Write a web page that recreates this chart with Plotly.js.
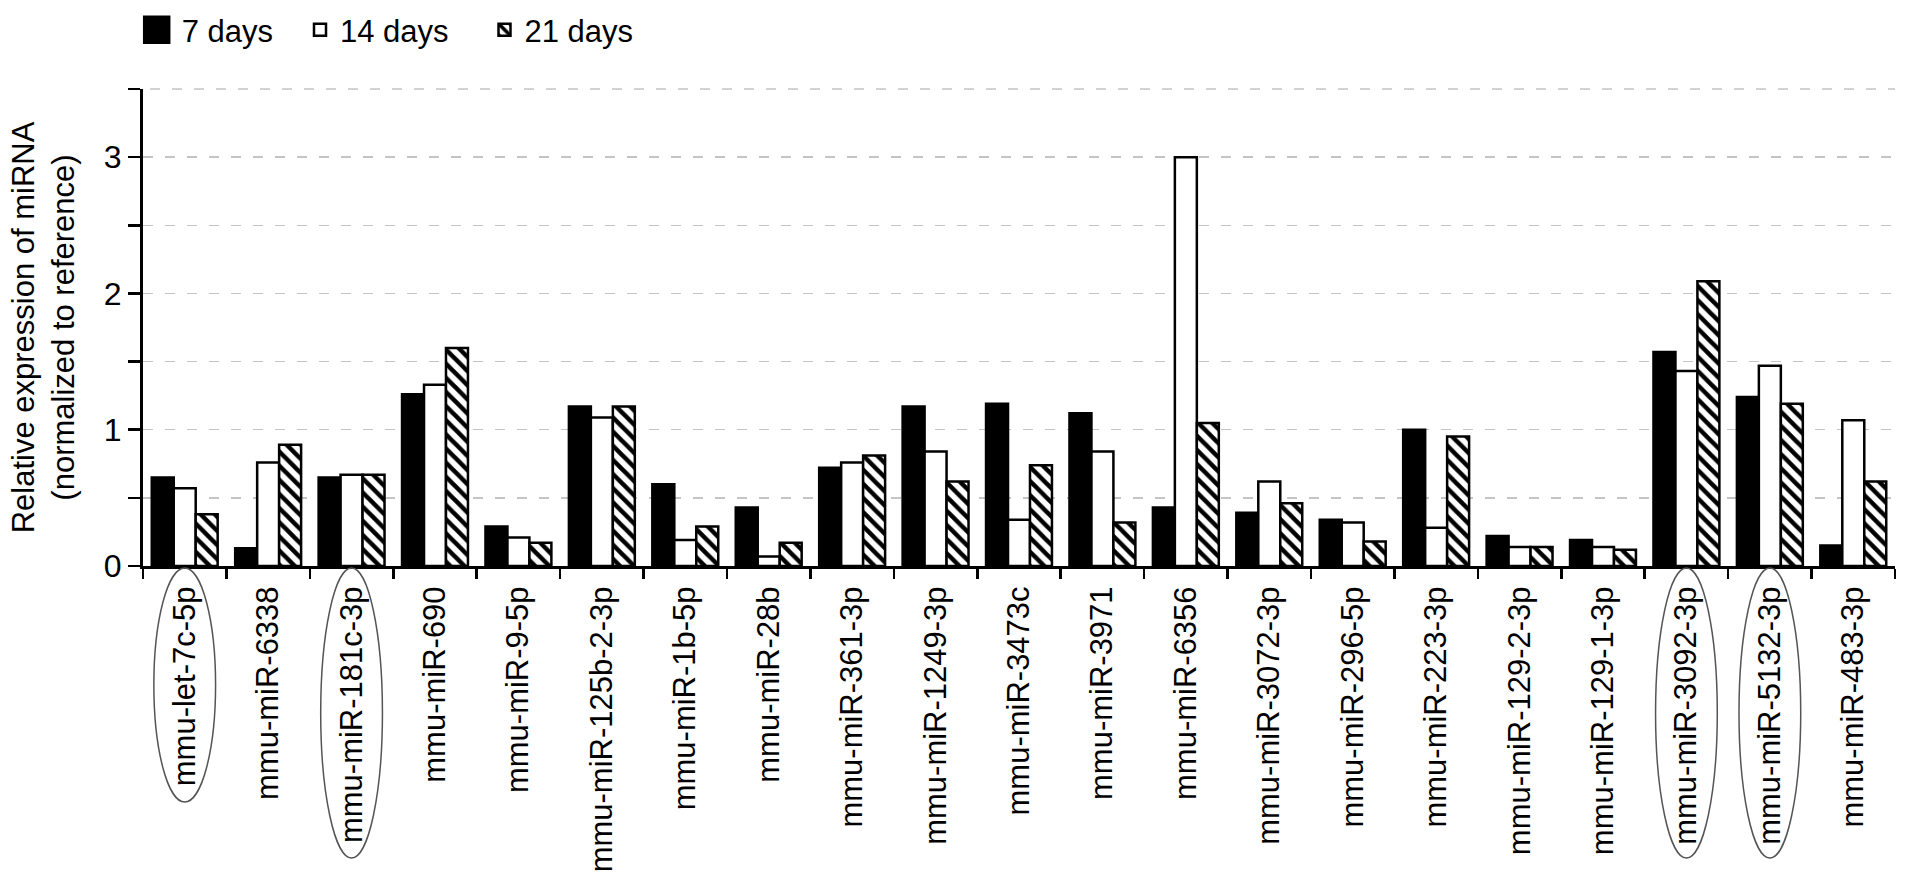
<!DOCTYPE html>
<html>
<head>
<meta charset="utf-8">
<script src="https://cdn.plot.ly/plotly-3.0.1.min.js"></script>
<style>html,body{margin:0;padding:0;background:#fff;}#chart{width:1913px;height:883px;}</style>
</head>
<body>
<div id="chart"></div>
<script>
// ---- data ----
const categories = ['mmu-let-7c-5p','mmu-miR-6338','mmu-miR-181c-3p','mmu-miR-690','mmu-miR-9-5p','mmu-miR-125b-2-3p','mmu-miR-1b-5p','mmu-miR-28b','mmu-miR-361-3p','mmu-miR-1249-3p','mmu-miR-3473c','mmu-miR-3971','mmu-miR-6356','mmu-miR-3072-3p','mmu-miR-296-5p','mmu-miR-223-3p','mmu-miR-129-2-3p','mmu-miR-129-1-3p','mmu-miR-3092-3p','mmu-miR-5132-3p','mmu-miR-483-3p'];
const day7  = [0.65, 0.13, 0.65, 1.26, 0.29, 1.17, 0.60, 0.43, 0.72, 1.17, 1.19, 1.12, 0.43, 0.39, 0.34, 1.00, 0.22, 0.19, 1.57, 1.24, 0.15];
const day14 = [0.57, 0.76, 0.67, 1.33, 0.21, 1.09, 0.19, 0.07, 0.76, 0.84, 0.34, 0.84, 3.00, 0.62, 0.32, 0.28, 0.14, 0.14, 1.43, 1.47, 1.07];
const day21 = [0.38, 0.89, 0.67, 1.60, 0.17, 1.17, 0.29, 0.17, 0.81, 0.62, 0.74, 0.32, 1.05, 0.46, 0.18, 0.95, 0.14, 0.12, 2.09, 1.19, 0.62];
const seriesNames = ['7 days', '14 days', '21 days'];
const yTickVals = [0, 0.5, 1, 1.5, 2, 2.5, 3, 3.5];
const yTickText = ['0', '', '1', '', '2', '', '3', ''];
const highlighted = ['mmu-let-7c-5p', 'mmu-miR-181c-3p', 'mmu-miR-3092-3p', 'mmu-miR-5132-3p'];

// ---- style ----
const FONT = '"Liberation Sans", Arial, Helvetica, sans-serif';
const W = 1913, H = 883;
const M = {l: 143, r: 18, t: 89, b: 317};
const plotBottomPx = H - M.b, plotH = H - M.t - M.b;
const ellipseBottomPx = [802, 858, 858, 858];
const legendTextStartPx = [181.7, 340, 524.5];
const GRID = {color: '#c4c4c4', width: 1.5, dash: '10px,12px'};

const line = {color: '#000', width: 2.5};
const traces = [
  {type: 'bar', name: seriesNames[0], x: categories, y: day7,
   marker: {color: '#000', line: line}, legend: 'legend'},
  {type: 'bar', name: seriesNames[1], x: categories, y: day14,
   marker: {color: '#fff', line: line}, legend: 'legend2'},
  {type: 'bar', name: seriesNames[2], x: categories, y: day21,
   marker: {color: '#fff', line: line,
            pattern: {shape: '\\', fgcolor: '#000', bgcolor: '#fff', size: 10, solidity: 0.45}},
   legend: 'legend3'}
];

function legendAt(i) {
  return {
    xref: 'container', yref: 'container',
    x: (legendTextStartPx[i] - 40) / W, xanchor: 'left',
    y: 1 - 30 / H, yanchor: 'middle',
    orientation: 'h', bgcolor: 'rgba(0,0,0,0)', borderwidth: 0,
    font: {family: FONT, size: 31, color: '#000'}
  };
}

const shapes = highlighted.map((c, k) => {
  const i = categories.indexOf(c);
  return {
    type: 'circle', xref: 'x', yref: 'paper',
    x0: i - 0.37, x1: i + 0.37,
    y0: (plotBottomPx - 568) / plotH, y1: (plotBottomPx - ellipseBottomPx[k]) / plotH,
    line: {color: '#555', width: 1.5}, fillcolor: 'rgba(0,0,0,0)', layer: 'above'
  };
});
// top gridline on the plot's upper edge (Plotly omits the grid line lying on the edge)
shapes.push({type: 'line', xref: 'paper', yref: 'paper', x0: 0.004, x1: 1, y0: 1, y1: 1,
             line: {color: GRID.color, width: GRID.width, dash: GRID.dash}, layer: 'above'});

const layout = {
  width: W, height: H,
  margin: M,
  paper_bgcolor: '#fff', plot_bgcolor: '#fff',
  font: {family: FONT, color: '#000'},
  barmode: 'group', bargap: 0.21, bargroupgap: 0,
  showlegend: true,
  legend: legendAt(0), legend2: legendAt(1), legend3: legendAt(2),
  xaxis: {
    type: 'category', tickson: 'boundaries',
    ticks: 'outside', ticklen: 10, tickwidth: 2.5, tickcolor: '#000',
    showline: true, linecolor: '#000', linewidth: 3,
    showgrid: false, zeroline: false,
    tickangle: -90, ticklabelstandoff: 5,
    tickfont: {family: FONT, size: 31, color: '#000'},
    automargin: false
  },
  yaxis: {
    range: [0, yTickVals[yTickVals.length - 1]], tickmode: 'array', tickvals: yTickVals, ticktext: yTickText,
    ticks: 'outside', ticklen: 12, tickwidth: 2.5, tickcolor: '#000',
    showline: true, linecolor: '#000', linewidth: 3,
    showgrid: true, gridcolor: GRID.color, gridwidth: GRID.width, griddash: GRID.dash,
    zeroline: false,
    tickfont: {family: FONT, size: 32, color: '#000'},
    title: {text: 'Relative expression of miRNA<br>(normalized to reference)',
            font: {family: FONT, size: 31, color: '#000'}, standoff: 20},
    automargin: false
  },
  shapes: shapes
};

Plotly.newPlot('chart', traces, layout, {staticPlot: true, displayModeBar: false}).then(gd => {
  gd.querySelectorAll('.legend .legendpoints path').forEach(p => {
    p.setAttribute('d', 'M7.5,13H-17.5V-13H7.5Z');
  });
});
</script>
</body>
</html>
